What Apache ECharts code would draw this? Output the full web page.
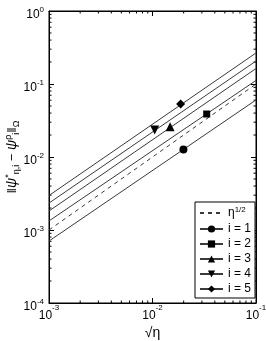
<!DOCTYPE html>
<html>
<head>
<meta charset="utf-8">
<script src="https://cdn.jsdelivr.net/npm/echarts@6/dist/echarts.min.js"></script>
<style>html,body{margin:0;padding:0;background:#fff}#c{width:266px;height:341px}</style>
</head>
<body>
<div id="c"></div>
<script>
// ---- data ----
const xRange = [1e-3, 1e-1];
const yRange = [1e-4, 1e0];
const refName = 'eta';            // η^{1/2} reference line
const refX = [1e-3, 1e-1];
const refY = [1e-3, 1e-1];
const seriesNames = ['i = 1', 'i = 2', 'i = 3', 'i = 4', 'i = 5'];
const fitY0 = [7.06e-4, 1.33e-3, 1.82e-3, 2.34e-3, 2.97e-3];   // fit line value at x = 1e-3
const fitY1 = [0.0604, 0.112, 0.163, 0.2065, 0.266];           // fit line value at x = 1e-1
const markX = [0.0199, 0.0334, 0.0148, 0.0105, 0.0187];
const markY = [0.0127, 0.0388, 0.0260, 0.0234, 0.0532];
const markSymbol = ['circle', 'rect', 'triangle', 'triangle', 'diamond'];
const markRotate = [0, 0, 0, 180, 0];
const markSize = [8, 7, 9, 9, 9];

const FONT = 'Liberation Sans, Arial, Helvetica, sans-serif';
const LINE = '#3a3a3a';

// minor tick values (2..9 per decade)
function minorVals(lo, hi) {
  const out = [];
  for (let e = Math.round(Math.log10(lo)); e < Math.round(Math.log10(hi)); e++)
    for (let k = 2; k <= 9; k++) out.push(k * Math.pow(10, e));
  return out;
}
const xMinor = minorVals(xRange[0], xRange[1]);
const yMinor = minorVals(yRange[0], yRange[1]);

const chart = echarts.init(document.getElementById('c'), null, {renderer: 'canvas'});

function expLabel(v) { return '{b|10}{s|' + Math.round(Math.log10(v)) + '}'; }

const axisCommon = {
  type: 'log', logBase: 10,
  axisLine: {show: true, lineStyle: {color: '#000', width: 1}},
  axisTick: {show: true, inside: true, length: 5, lineStyle: {color: '#000'}},
  splitLine: {show: false}, minorTick: {show: false}
};

const series = [];
series.push({
  name: refName, type: 'line', data: refX.map((x, i) => [x, refY[i]]),
  symbol: 'none', showSymbol: false,
  lineStyle: {color: LINE, width: 1, type: [4, 4]},
  itemStyle: {color: LINE, opacity: 0}
});
seriesNames.forEach((n, i) => {
  series.push({
    name: n, type: 'line',
    data: [[xRange[0], fitY0[i]], [xRange[1], fitY1[i]]],
    symbol: markSymbol[i], symbolRotate: markRotate[i], showSymbol: false,
    lineStyle: {color: LINE, width: 1},
    itemStyle: {color: '#000'},
    markPoint: {
      symbol: markSymbol[i], symbolRotate: markRotate[i], symbolSize: markSize[i],
      itemStyle: {color: '#000'}, label: {show: false},
      data: [{coord: [markX[i], markY[i]]}]
    }
  });
});
// minor ticks on all four sides
series.push({
  type: 'custom', silent: true, clip: false,
  data: xMinor.map(v => [v, 0]).concat(yMinor.map(v => [0, v])),
  dimensions: ['x', 'y'],
  encode: {x: 0, y: 1},
  renderItem: function (params, api) {
    const xv = api.value(0), yv = api.value(1);
    const st = {stroke: '#000', lineWidth: 1};
    if (xv > 0) {
      const b = api.coord([xv, yRange[0]]), t = api.coord([xv, yRange[1]]);
      return {type: 'group', children: [
        {type: 'line', shape: {x1: b[0], y1: b[1], x2: b[0], y2: b[1] - 2.5}, style: st},
        {type: 'line', shape: {x1: t[0], y1: t[1], x2: t[0], y2: t[1] + 2.5}, style: st}
      ]};
    } else {
      const l = api.coord([xRange[0], yv]), r = api.coord([xRange[1], yv]);
      return {type: 'group', children: [
        {type: 'line', shape: {x1: l[0], y1: l[1], x2: l[0] + 2.5, y2: l[1]}, style: st},
        {type: 'line', shape: {x1: r[0], y1: r[1], x2: r[0] - 2.5, y2: r[1]}, style: st}
      ]};
    }
  }
});

chart.setOption({
  animation: false,
  textStyle: {fontFamily: FONT},
  grid: {left: 49, top: 11, right: 10, bottom: 38, containLabel: false, outerBoundsMode: 'none',
    show: true, borderColor: '#000', borderWidth: 1, backgroundColor: '#fff'},
  legend: {
    data: [refName].concat(seriesNames),
    orient: 'vertical', left: 195, top: 202,
    backgroundColor: '#fff', borderColor: '#000', borderWidth: 1, borderRadius: 0,
    padding: [4, 4, 3, 4], itemGap: 3, itemWidth: 23, itemHeight: 9,
    textStyle: {fontSize: 12, color: '#000', fontFamily: FONT, lineHeight: 12,
      rich: {s: {fontSize: 8, verticalAlign: 'top', lineHeight: 8, fontFamily: FONT}, m: {fontSize: 12, lineHeight: 14, fontFamily: FONT}}},
    formatter: function (name) { return name === refName ? '{m|η}{s|1/2}' : name; }
  },
  xAxis: [
    Object.assign({}, axisCommon, {
      position: 'bottom', min: xRange[0], max: xRange[1],
      axisLabel: {show: true, margin: 1, color: '#000', formatter: expLabel,
        rich: {b: {fontSize: 12, lineHeight: 24, fontFamily: FONT}, s: {fontSize: 8, lineHeight: 8, verticalAlign: 'top', fontFamily: FONT}}},
      name: '√η', nameLocation: 'middle', nameGap: 23, nameMoveOverlap: false,
      nameTextStyle: {fontSize: 14, color: '#000', fontFamily: FONT}
    }),
    Object.assign({}, axisCommon, {position: 'top', min: xRange[0], max: xRange[1], axisLabel: {show: false}})
  ],
  yAxis: [
    Object.assign({}, axisCommon, {
      position: 'left', min: yRange[0], max: yRange[1],
      axisLabel: {show: true, margin: 5, color: '#000', formatter: expLabel, padding: [7, 0, 0, 0],
        rich: {b: {fontSize: 12, lineHeight: 18, fontFamily: FONT}, s: {fontSize: 8, lineHeight: 8, verticalAlign: 'top', fontFamily: FONT}}},
      name: '{n|‖}{it|ψ}{s|*}{d|η,i}{n| − }{it|ψ}{s|ρ}{d|i}{n|‖}{d|Ω}', nameLocation: 'middle', nameGap: 28, nameRotate: 90,
      nameMoveOverlap: false,
      nameTextStyle: {fontSize: 13, color: '#000', fontFamily: FONT,
        rich: {n: {fontSize: 13, lineHeight: 17, fontFamily: FONT},
               it: {fontSize: 14, fontStyle: 'italic', lineHeight: 17, fontFamily: FONT},
               s: {fontSize: 9, verticalAlign: 'top', lineHeight: 9, fontFamily: FONT},
               d: {fontSize: 9, verticalAlign: 'bottom', lineHeight: 9, fontFamily: FONT}}}
    }),
    Object.assign({}, axisCommon, {position: 'right', min: yRange[0], max: yRange[1], axisLabel: {show: false}})
  ],
  series: series
});
</script>
</body>
</html>
